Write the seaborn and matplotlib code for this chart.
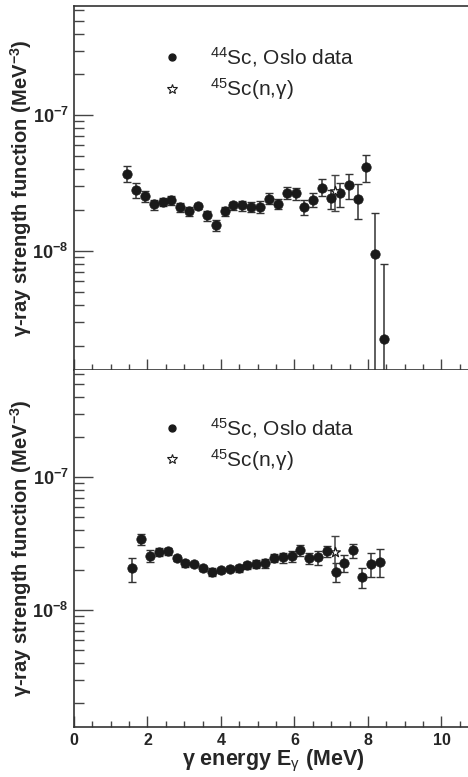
import numpy as np
import pandas as pd
import matplotlib
matplotlib.use("Agg")
import matplotlib.pyplot as plt
from matplotlib.ticker import LogLocator, NullFormatter, FixedLocator, MultipleLocator
from matplotlib.lines import Line2D
import seaborn as sns

# ---------------- data ----------------
# 44Sc Oslo data
e44 = [1.45, 1.69, 1.93, 2.17, 2.41, 2.65, 2.89, 3.13, 3.38, 3.62,
       3.86, 4.10, 4.34, 4.58, 4.82, 5.06, 5.31, 5.55, 5.79, 6.03,
       6.27, 6.51, 6.75, 6.99, 7.23, 7.48, 7.72, 7.96, 8.20, 8.44]
f44 = [3.71e-8, 2.83e-8, 2.53e-8, 2.20e-8, 2.31e-8, 2.36e-8, 2.10e-8, 1.95e-8, 2.15e-8, 1.83e-8,
       1.56e-8, 1.96e-8, 2.16e-8, 2.16e-8, 2.12e-8, 2.12e-8, 2.42e-8, 2.23e-8, 2.68e-8, 2.66e-8,
       2.10e-8, 2.38e-8, 2.93e-8, 2.47e-8, 2.65e-8, 3.05e-8, 2.43e-8, 4.16e-8, 9.44e-9, 2.22e-9]
hi44 = [4.23e-8, 3.17e-8, 2.75e-8, 2.36e-8, 2.47e-8, 2.54e-8, 2.25e-8, 2.09e-8, 2.22e-8, 1.96e-8,
        1.70e-8, 2.11e-8, 2.31e-8, 2.35e-8, 2.31e-8, 2.34e-8, 2.65e-8, 2.42e-8, 2.96e-8, 2.93e-8,
        2.36e-8, 2.69e-8, 3.36e-8, 2.83e-8, 3.17e-8, 3.67e-8, 3.13e-8, 5.13e-8, 1.91e-8, 7.97e-9]
lo44 = [3.23e-8, 2.47e-8, 2.28e-8, 1.99e-8, 2.15e-8, 2.18e-8, 1.94e-8, 1.80e-8, 2.05e-8, 1.65e-8,
        1.41e-8, 1.80e-8, 1.99e-8, 1.97e-8, 1.94e-8, 1.91e-8, 2.23e-8, 2.03e-8, 2.42e-8, 2.39e-8,
        1.83e-8, 2.09e-8, 2.53e-8, 2.05e-8, 2.11e-8, 2.43e-8, 1.71e-8, 3.23e-8, 1e-10, 1e-10]

# 45Sc Oslo data
e45 = [1.59, 1.83, 2.07, 2.31, 2.55, 2.79, 3.03, 3.27, 3.51, 3.75,
       4.00, 4.24, 4.48, 4.72, 4.96, 5.20, 5.44, 5.68, 5.92, 6.16,
       6.40, 6.64, 6.88, 7.12, 7.36, 7.60, 7.84, 8.08, 8.32]
f45 = [2.06e-8, 3.41e-8, 2.57e-8, 2.75e-8, 2.79e-8, 2.45e-8, 2.26e-8, 2.22e-8, 2.06e-8, 1.95e-8,
       1.99e-8, 2.05e-8, 2.07e-8, 2.17e-8, 2.22e-8, 2.26e-8, 2.45e-8, 2.49e-8, 2.55e-8, 2.82e-8,
       2.45e-8, 2.49e-8, 2.77e-8, 1.95e-8, 2.26e-8, 2.82e-8, 1.78e-8, 2.23e-8, 2.31e-8]
hi45 = [2.48e-8, 3.74e-8, 2.83e-8, 2.95e-8, 2.95e-8, 2.55e-8, 2.39e-8, 2.31e-8, 2.16e-8, 2.06e-8,
        2.08e-8, 2.15e-8, 2.20e-8, 2.30e-8, 2.37e-8, 2.41e-8, 2.64e-8, 2.70e-8, 2.78e-8, 3.09e-8,
        2.70e-8, 2.78e-8, 3.04e-8, 2.25e-8, 2.61e-8, 3.14e-8, 2.06e-8, 2.70e-8, 2.88e-8]
lo45 = [1.64e-8, 3.11e-8, 2.30e-8, 2.55e-8, 2.61e-8, 2.35e-8, 2.12e-8, 2.15e-8, 1.97e-8, 1.82e-8,
        1.91e-8, 1.97e-8, 1.94e-8, 2.04e-8, 2.08e-8, 2.08e-8, 2.29e-8, 2.27e-8, 2.31e-8, 2.57e-8,
        2.21e-8, 2.18e-8, 2.52e-8, 1.64e-8, 1.92e-8, 2.45e-8, 1.47e-8, 1.77e-8, 1.76e-8]

# 45Sc(n,gamma)
eng = [7.10]
fng = [2.75e-8]
hing = [3.60e-8]
long_ = [1.96e-8]

xticks = [0, 2, 4, 6, 8, 10]
labels_top = [r"$^{44}$Sc, Oslo data", "$^{45}$Sc(n,γ)"]
labels_bot = [r"$^{45}$Sc, Oslo data", "$^{45}$Sc(n,γ)"]

# ---------------- style ----------------
sns.set_style("ticks")
plt.rcParams["font.family"] = ["Liberation Sans", "DejaVu Sans"]
plt.rcParams["mathtext.fontset"] = "custom"
plt.rcParams["mathtext.rm"] = "Liberation Sans"
plt.rcParams["mathtext.bf"] = "Liberation Sans:bold"
plt.rcParams["mathtext.it"] = "Liberation Sans:italic"

fig = plt.figure(figsize=(4.68, 7.77), dpi=100)
W, H = 468, 777
left = 74 / W
ax_top = fig.add_axes([left, 1 - 370 / H, 1 - left + 0.01, (370 - 6) / H])
ax_bot = fig.add_axes([left, 1 - 727 / H, 1 - left + 0.01, (727 - 370) / H])

ylim = (1.32e-9, 6.4e-7)
xlim = (0, 10.85)
ink = "#1a1a1a"


def draw(ax, e, f, lo, hi, labels, leg_y):
    df = pd.DataFrame({"E": e, "f": f})
    dng = pd.DataFrame({"E": eng, "f": fng})
    ax.errorbar(e, f, yerr=[np.array(f) - np.array(lo), np.array(hi) - np.array(f)],
                fmt="none", ecolor="#333333", elinewidth=1.1, capsize=2.6, capthick=1.0, zorder=2)
    ax.errorbar(eng, fng, yerr=[np.array(fng) - np.array(long_), np.array(hing) - np.array(fng)],
                fmt="none", ecolor="#444444", elinewidth=1.1, capsize=2.6, capthick=1.0, zorder=2)
    sns.scatterplot(data=df, x="E", y="f", ax=ax, s=46, color=ink, edgecolor=ink,
                    linewidth=0.5, marker="o", zorder=3, legend=False)
    sns.scatterplot(data=dng, x="E", y="f", ax=ax, s=55, facecolor="white", edgecolor=ink,
                    linewidth=0.9, marker="*", zorder=4, legend=False)
    ax.set_yscale("log")
    ax.set_ylim(*ylim)
    ax.set_xlim(*xlim)
    ax.yaxis.set_major_locator(FixedLocator([1e-8, 1e-7]))
    ax.yaxis.set_minor_locator(LogLocator(base=10, subs=np.arange(2, 10), numticks=20))
    ax.yaxis.set_minor_formatter(NullFormatter())
    ax.set_yticklabels([r"$\mathbf{10^{-8}}$", r"$\mathbf{10^{-7}}$"], fontsize=13)
    ax.xaxis.set_major_locator(FixedLocator(xticks))
    ax.xaxis.set_minor_locator(MultipleLocator(0.5))
    ax.tick_params(axis="y", which="major", direction="in", length=14, width=1.0, pad=4, color="#444444")
    ax.tick_params(axis="y", which="minor", direction="in", length=7, width=1.0, color="#444444")
    ax.tick_params(axis="x", which="major", direction="in", length=8, width=1.0, pad=4, color="#444444")
    ax.tick_params(axis="x", which="minor", direction="in", length=4, width=1.0, color="#444444")
    for s in ["left", "bottom", "top"]:
        ax.spines[s].set_linewidth(1.2)
        ax.spines[s].set_color("#333333")
    ax.spines["right"].set_visible(False)
    ax.set_ylabel("γ-ray strength function (MeV$^{\\mathbf{-3}}$)", fontsize=14.5,
                  fontweight="bold")
    ax.yaxis.set_label_coords(-0.10, 0.5)
    handles = [Line2D([], [], linestyle="none", marker="o", markersize=5, color=ink),
               Line2D([], [], linestyle="none", marker="*", markersize=7, markerfacecolor="white",
                      markeredgecolor=ink, markeredgewidth=0.8)]
    ax.legend(handles, labels, frameon=False, fontsize=15, loc="upper left",
              bbox_to_anchor=(0.2, leg_y), handlelength=1.0, handletextpad=1.3,
              labelspacing=0.35, borderaxespad=0)
    return ax


draw(ax_top, e44, f44, lo44, hi44, labels_top, 0.915)
draw(ax_bot, e45, f45, lo45, hi45, labels_bot, 0.895)

ax_top.set_xlabel("")
ax_top.tick_params(axis="x", labelbottom=False)
ax_bot.set_xticklabels([str(t) for t in xticks], fontsize=11.5, fontweight="bold")
ax_bot.set_xlabel("γ energy E$_{\\mathrm{γ}}$ (MeV)", fontsize=15.5, fontweight="bold")
ax_bot.xaxis.set_label_coords(0.5, -0.058)
ax_bot.spines["top"].set_visible(False)

fig.savefig("out.png", dpi=100)
